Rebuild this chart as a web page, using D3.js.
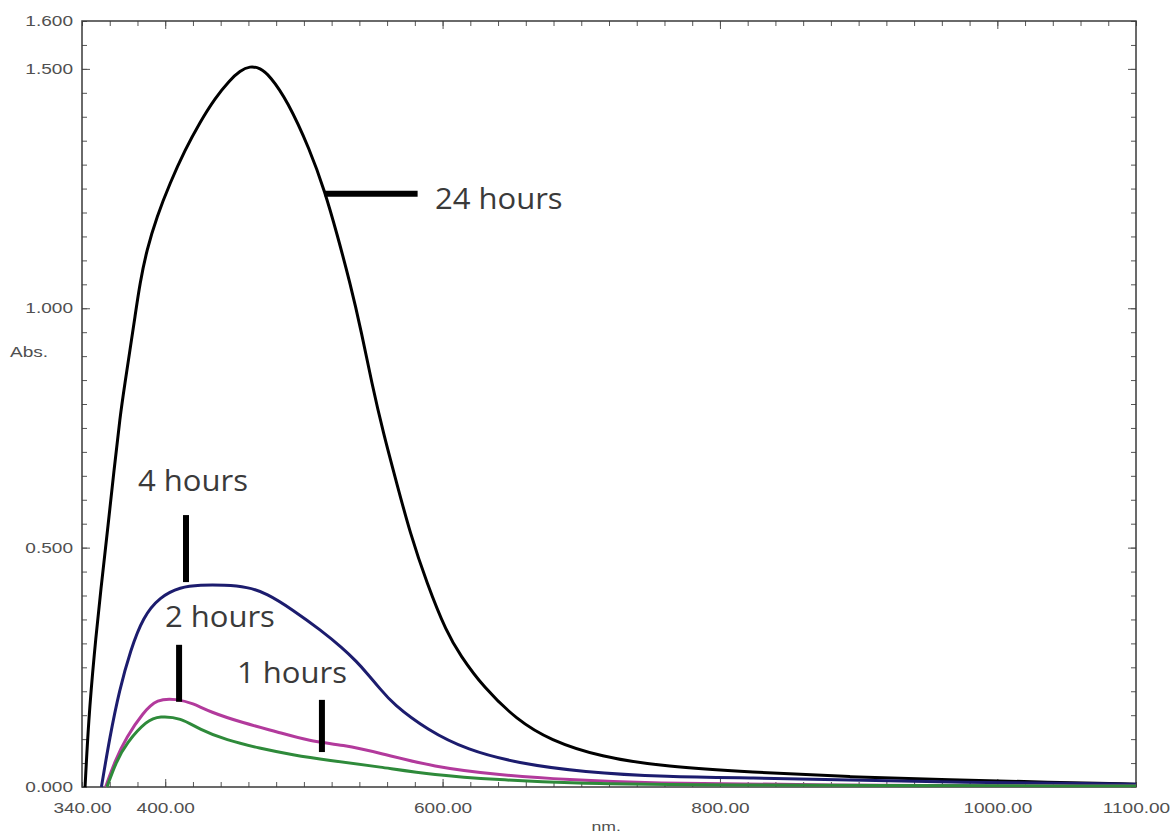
<!DOCTYPE html>
<html>
<head>
<meta charset="utf-8">
<script src="https://cdn.jsdelivr.net/npm/d3@7"></script>
<style>
  body { margin: 0; background: #fff; }
  svg { display: block; }
</style>
</head>
<body>
<div id="chart"></div>
<script>
// wavelengths (nm) and absorbance
const nm24 = [342.2, 344.7, 348.7, 353.6, 359, 363.1, 367.4, 371, 374.6, 378.2, 381.8, 386.7, 393.9, 403.5, 414.3, 425.1, 435.9, 446.7, 453.9, 461.1, 468.4, 475.6, 487.8, 504.4, 515.2, 523.7, 533.3, 541.7, 548.9, 557.3, 566.9, 576.5, 588.6, 603, 612.6, 629.2, 653.7, 677.5, 713.5, 761.8, 821.7, 893.8, 965.9, 1038, 1100];
const abs24 = [0, 0.138, 0.276, 0.414, 0.551, 0.662, 0.773, 0.844, 0.913, 0.982, 1.053, 1.122, 1.191, 1.262, 1.331, 1.389, 1.439, 1.477, 1.496, 1.506, 1.502, 1.485, 1.435, 1.331, 1.243, 1.157, 1.053, 0.948, 0.844, 0.739, 0.635, 0.531, 0.426, 0.322, 0.276, 0.209, 0.14, 0.098, 0.063, 0.042, 0.031, 0.021, 0.015, 0.01, 0.006];

const nm4 = [354, 360, 367, 375, 384, 396, 411, 425, 443, 459, 473, 492, 512, 528, 538, 546, 555, 564, 589, 618, 654, 701, 762, 822, 894, 966, 1100];
const abs4 = [0, 0.104, 0.203, 0.286, 0.355, 0.397, 0.418, 0.422, 0.422, 0.418, 0.405, 0.37, 0.328, 0.29, 0.262, 0.236, 0.205, 0.174, 0.119, 0.077, 0.05, 0.031, 0.021, 0.019, 0.015, 0.01, 0.006];

const nm2 = [357, 364, 372, 384, 394, 408, 420, 432, 456, 481, 504, 528, 555, 593, 641, 690, 750, 858, 1100];
const abs2 = [0, 0.056, 0.104, 0.155, 0.184, 0.184, 0.175, 0.157, 0.134, 0.115, 0.096, 0.088, 0.071, 0.042, 0.025, 0.015, 0.008, 0.004, 0.002];

const nm1 = [358, 364.5, 372, 387, 396, 411, 425, 444, 468, 492, 517, 555, 593, 641, 690, 786, 1100];
const abs1 = [0, 0.052, 0.092, 0.14, 0.148, 0.145, 0.12, 0.098, 0.081, 0.067, 0.056, 0.042, 0.025, 0.015, 0.008, 0.004, 0.002];

// annotations, in data units
const labelText = ['24 hours', '4 hours', '2 hours', '1 hours'];
const labelNm = [594.5, 380.4, 399.8, 451.8];
const labelAbs = [1.207, 0.618, 0.334, 0.217];
const markNmFrom = [515, 415, 410, 513];
const markNmTo = [582, 415, 410, 513];
const markAbsFrom = [1.239, 0.568, 0.297, 0.182];
const markAbsTo = [1.239, 0.428, 0.178, 0.073];

const yTickValues = [0, 0.5, 1.0, 1.5, 1.6];
const xTickValues = [340, 400, 600, 800, 1000, 1100];

const width = 1171, height = 835;
const margin = { top: 21, right: 35, bottom: 48, left: 82 };
const stretch = 1.36;  // tick text in the picture is drawn wide

const x = d3.scaleLinear().domain([340, 1100]).range([margin.left, width - margin.right]);
const y = d3.scaleLinear().domain([0, 1.6]).range([height - margin.bottom, margin.top]);

const svg = d3.select('#chart')
  .append('svg')
  .attr('width', width)
  .attr('height', height);

const minorX = d3.range(340, 1101, 20);
const majorX = [400, 600, 800, 1000];
const minorY = d3.range(0, 1.6001, 0.05);
const majorY = [0.5, 1.0, 1.5];

function tickStyle(g) {
  g.select('.domain').remove();
  g.selectAll('line').attr('stroke', '#555').attr('stroke-width', 1);
}

// minor + major ticks on all four sides, pointing inward
[[minorX, 5], [majorX, 8]].forEach(([vals, len]) => {
  svg.append('g')
    .attr('transform', 'translate(0,' + y(0) + ')')
    .call(d3.axisBottom(x).tickValues(vals).tickSize(-len).tickFormat(''))
    .call(tickStyle);
  svg.append('g')
    .attr('transform', 'translate(0,' + y(1.6) + ')')
    .call(d3.axisTop(x).tickValues(vals).tickSize(-len).tickFormat(''))
    .call(tickStyle);
});
[[minorY, 5], [majorY, 8]].forEach(([vals, len]) => {
  svg.append('g')
    .attr('transform', 'translate(' + x(340) + ',0)')
    .call(d3.axisLeft(y).tickValues(vals).tickSize(-len).tickFormat(''))
    .call(tickStyle);
  svg.append('g')
    .attr('transform', 'translate(' + x(1100) + ',0)')
    .call(d3.axisRight(y).tickValues(vals).tickSize(-len).tickFormat(''))
    .call(tickStyle);
});

// labelled axes (labels only, ticks drawn above)
const yAxis = svg.append('g')
  .attr('transform', 'translate(' + x(340) + ',0)')
  .call(d3.axisLeft(y).tickValues(yTickValues).tickSize(0).tickPadding(9).tickFormat(d3.format('.3f')));
yAxis.select('.domain').remove();
yAxis.selectAll('text')
  .attr('font-family', 'Liberation Sans, Arial, sans-serif')
  .attr('font-size', 14)
  .attr('fill', '#505050')
  .attr('x', -9 / stretch)
  .attr('transform', 'scale(' + stretch + ',1)');

const xAxis = svg.append('g')
  .attr('transform', 'translate(0,' + y(0) + ')')
  .call(d3.axisBottom(x).tickValues(xTickValues).tickSize(0).tickPadding(16).tickFormat(d3.format('.2f')));
xAxis.select('.domain').remove();
xAxis.selectAll('.tick text')
  .attr('font-family', 'Liberation Sans, Arial, sans-serif')
  .attr('font-size', 14)
  .attr('fill', '#505050')
  .attr('transform', 'scale(' + stretch + ',1)');

// frame
svg.append('rect')
  .attr('x', x(340))
  .attr('y', y(1.6))
  .attr('width', x(1100) - x(340))
  .attr('height', y(0) - y(1.6))
  .attr('fill', 'none')
  .attr('stroke', '#3a3a3a')
  .attr('stroke-width', 1.5);

// axis titles
svg.append('text')
  .attr('transform', 'translate(10,357) scale(' + stretch + ',1)')
  .attr('font-family', 'Liberation Sans, Arial, sans-serif')
  .attr('font-size', 14)
  .attr('fill', '#505050')
  .text('Abs.');

svg.append('text')
  .attr('transform', 'translate(' + x(718) + ',831) scale(' + stretch + ',1)')
  .attr('text-anchor', 'middle')
  .attr('font-family', 'Liberation Sans, Arial, sans-serif')
  .attr('font-size', 13)
  .attr('fill', '#505050')
  .text('nm.');

// spectra
const series = [
  { nm: nm24, abs: abs24, color: '#000000' },
  { nm: nm4, abs: abs4, color: '#1c1c6e' },
  { nm: nm2, abs: abs2, color: '#b23a9c' },
  { nm: nm1, abs: abs1, color: '#2e8a3a' }
];

const line = d3.line()
  .x(d => x(d[0]))
  .y(d => y(d[1]))
  .curve(d3.curveBasis);

svg.append('g')
  .selectAll('path')
  .data(series)
  .join('path')
  .attr('d', s => line(d3.zip(s.nm, s.abs)))
  .attr('fill', 'none')
  .attr('stroke', s => s.color)
  .attr('stroke-width', 3)
  .attr('stroke-linejoin', 'round');

// annotation markers and labels
svg.append('g')
  .selectAll('line')
  .data(labelText)
  .join('line')
  .attr('x1', (d, i) => x(markNmFrom[i]))
  .attr('x2', (d, i) => x(markNmTo[i]))
  .attr('y1', (d, i) => y(markAbsFrom[i]))
  .attr('y2', (d, i) => y(markAbsTo[i]))
  .attr('stroke', '#000')
  .attr('stroke-width', 6);

svg.append('g')
  .selectAll('text')
  .data(labelText)
  .join('text')
  .attr('transform', (d, i) => 'translate(' + x(labelNm[i]) + ',' + y(labelAbs[i]) + ') scale(1.07,1)')
  .attr('font-family', 'Open Sans, sans-serif')
  .attr('font-size', 29)
  .attr('fill', '#3a3a3a')
  .text(d => d);
</script>
</body>
</html>
